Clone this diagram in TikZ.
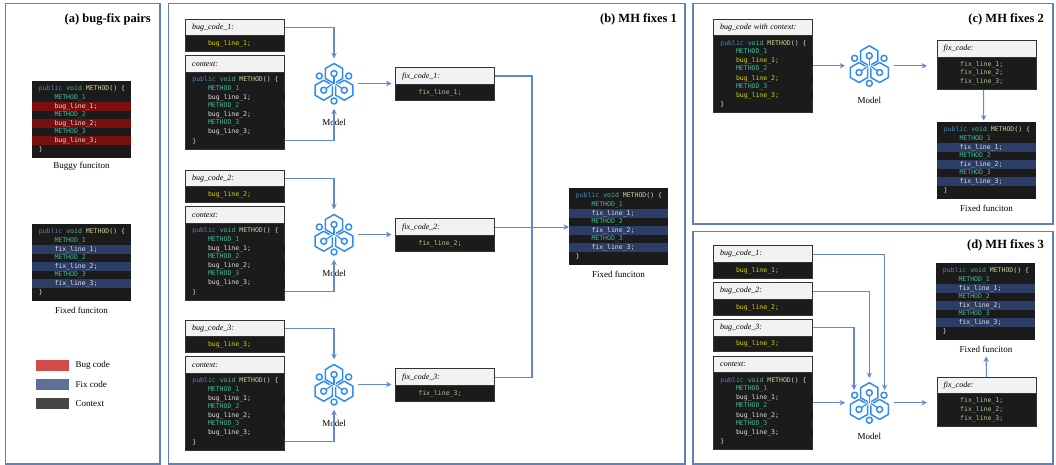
\documentclass[tikz,border=0pt]{standalone}
\usepackage{xcolor}
\usepackage{fontspec}
\setmainfont{Liberation Serif}
\setmonofont{DejaVu Sans Mono}
\usetikzlibrary{positioning,calc,arrows.meta}

\definecolor{panelblue}{HTML}{5F80B8}
\definecolor{flowblue}{HTML}{6388D0}
\definecolor{iconblue}{HTML}{2F8CF5}
\definecolor{codebg}{HTML}{1B1B1B}
\definecolor{headbg}{HTML}{F2F2F2}
\definecolor{redband}{HTML}{7A0F0F}
\definecolor{blueband}{HTML}{2C3E66}
\definecolor{kwblue}{HTML}{4F86BC}
\definecolor{kwteal}{HTML}{45B79A}
\definecolor{fnyellow}{HTML}{D0D09A}
\definecolor{plaintext}{HTML}{E0E0E0}
\definecolor{bugyellow}{HTML}{D6D600}
\definecolor{fixgreen}{HTML}{A8CC8C}
\definecolor{swbugcol}{HTML}{D24A4A}
\definecolor{swfixcol}{HTML}{5F7096}
\definecolor{swctxcol}{HTML}{454545}

\tikzset{
    panel/.style={draw=panelblue, line width=1.2pt},
    titlelabel/.style={font=\fontsize{12.5}{14}\selectfont\bfseries, anchor=east, inner sep=0pt},
    caption/.style={font=\fontsize{9}{11}\selectfont, inner sep=0pt},
    headbox/.style={draw=black!80, line width=0.8pt, fill=headbg, anchor=north west, outer sep=0pt,
        inner xsep=6.7pt, inner ysep=0pt, text width=85.6pt, minimum height=16.7pt, align=left,
        font=\fontsize{8}{10}\selectfont\itshape},
    snipbody/.style={draw=black!80, line width=0.8pt, fill=codebg, minimum width=99pt, outer sep=0pt, inner sep=0pt},
    codebody/.style={fill=codebg, minimum width=99pt, minimum height=77pt, inner sep=0pt, anchor=north west},
    band/.style={minimum width=99pt, minimum height=9pt, inner sep=0pt},
    codeline/.style={anchor=west, inner sep=0pt, text height=5pt, text depth=1.5pt,
        font=\fontsize{6.5}{8}\selectfont\ttfamily},
    swatch/.style={minimum width=33pt, minimum height=11pt, inner sep=0pt, anchor=west},
    flow/.style={draw=flowblue, line width=1.1pt, -{Stealth[length=5.5pt,width=5.5pt]}},
    flowjoin/.style={draw=flowblue, line width=1.1pt},
    modelbox/.style={minimum width=48pt, minimum height=50pt, inner sep=0pt},
    iconline/.style={draw=iconblue, line width=1.5pt, line join=round},
    iconstem/.style={draw=iconblue, line width=1.2pt, preaction={draw=white, line width=3pt}},
    pics/modelicon/.style={code={
        \foreach \cx/\cy in {0/-10, -10.3/6.7, 10.3/6.7}
            \draw[iconline, shift={(\cx,\cy)}] (0,-10) -- (8.66,-5) -- (8.66,5) -- (0,10) -- (-8.66,5) -- (-8.66,-5) -- cycle;
        \draw[iconstem] (0,-7) -- (0,0.5);
        \draw[iconstem] (-7.8,5) -- (-1.8,0.6);
        \draw[iconstem] (7.8,5) -- (1.8,0.6);
        \foreach \cx/\cy in {0/-10, -10.3/6.7, 10.3/6.7, -14.7/-7.5, 14.7/-7.5, 0/17.5}
            \draw[iconline] (\cx,\cy) circle[radius=3pt];
    }},
}

% name, head text, body height
\newcommand{\snipbox}[5]{
    \node[headbox] (#1) at (#2) {#3};
    \node[snipbody, minimum height=#4pt, below=0pt of #1] (#1b) {};
    #5
}
% body node, word, line colour, band colour
\newcommand{\codelines}[4]{
    \foreach \k in {1,2,3} {
        \node[band, fill=#4] (#1band\k) at ($(#1.north)+(0,25.5+17.1*\k-17.1)$) {};
        \node[codeline, text=kwteal] (#1meth\k) at ($(#1.north west)+(22.3,16.4+17.1*\k-17.1)$) {METHOD\_\k};
        \node[codeline, text=#3] (#1line\k) at ($(#1.north west)+(22.3,25.5+17.1*\k-17.1)$) {#2\_line\_\k;};
    }
    \node[codeline] (#1sig) at ($(#1.north west)+(6.7,7.7)$) {\textcolor{kwblue}{public} \textcolor{kwteal}{void} \textcolor{fnyellow}{METHOD}\textcolor{plaintext}{() \{}};
    \node[codeline, text=plaintext] (#1end) at ($(#1.north west)+(6.7,69)$) {\}};
}
\newcommand{\codeblock}[5]{
    \node[codebody] (#1) at (#2) {};
    \codelines{#1}{#3}{#4}{#5}
}
\newcommand{\modelnode}[2]{
    \node[modelbox] (#1) at (#2) {};
    \pic at (#1) {modelicon};
}

\begin{document}
\begin{tikzpicture}[x=1pt, y=-1pt]
    \useasboundingbox (0,0) rectangle (1056,465);

    \draw[panel] (5.5,3.5) rectangle (160,464);
    \draw[panel] (168.5,3.5) rectangle (685,464);
    \draw[panel] (693,3.5) rectangle (1053,224);
    \draw[panel] (693,231.5) rectangle (1053,464);

    \node[titlelabel] (titlea) at (151,19) {(a) bug-fix pairs};
    \node[titlelabel] (titleb) at (677,19) {(b) MH fixes 1};
    \node[titlelabel] (titlec) at (1044,19) {(c) MH fixes 2};
    \node[titlelabel] (titled) at (1044,245.7) {(d) MH fixes 3};

    % bug-fix pairs
    \codeblock{buggy}{32,81}{bug}{plaintext}{redband}
    \node[caption] (buggycap) at (81.5,166) {Buggy funciton};
    \codeblock{fixed}{32,224}{fix}{plaintext}{blueband}
    \node[caption] (fixedcap) at (81.5,310) {Fixed funciton};

    \node[swatch, fill=swbugcol] (swbug) at (36,365.5) {};
    \node[swatch, fill=swfixcol] (swfix) at (36,384.5) {};
    \node[swatch, fill=swctxcol] (swctx) at (36,403.5) {};
    \node[caption, right=6pt of swbug] (lgbug) {Bug code};
    \node[caption, right=6pt of swfix] (lgfix) {Fix code};
    \node[caption, right=6pt of swctx] (lgctx) {Context};

    % MH fixes 1
    \foreach \g/\dy in {1/0, 2/151, 3/301} {
        \snipbox{bug\g}{185.5,19+\dy}{bug\_code\_\g:}{16}{
            \node[codeline, text=bugyellow] (bugtxt\g) at ($(bug\g b.north west)+(22.3,8.4)$) {bug\_line\_\g;};
        }
        \snipbox{ctx\g}{185.5,55.7+\dy}{context:}{77}{
            \codelines{ctx\g b}{bug}{plaintext}{codebg}
        }
        \modelnode{m\g}{334,83.5+\dy}
        \node[caption] (mlabel\g) at (334,122+\dy) {Model};
        \snipbox{fix\g}{395.5,67.7+\dy}{fix\_code\_\g:}{16}{
            \node[codeline, text=fixgreen] (fixtxt\g) at ($(fix\g b.north west)+(22.7,8)$) {fix\_line\_\g;};
        }
        \draw[flow] (bug\g.east) -| (m\g.north);
        \draw[flow] ($(ctx\g b.south east)+(0,-9)$) -| (m\g.south);
        \draw[flow, shorten >=4pt] (m\g.east) -- (m\g.east -| fix\g.west);
    }
    \codeblock{fixb}{569,188}{fix}{plaintext}{blueband}
    \node[caption] (fixbcap) at (618.5,274) {Fixed funciton};
    \coordinate (join) at (532,226.5);
    \draw[flowjoin] (fix1.east) -| (join);
    \draw[flowjoin] (fix3.east) -| (join);
    \draw[flow] (fix2.east) -- (fix2.east -| fixb.west);

    % MH fixes 2
    \snipbox{bugc}{713.5,19}{bug\_code with context:}{77}{
        \codelines{bugcb}{bug}{bugyellow}{codebg}
    }
    \modelnode{mc}{869.3,65.8}
    \node[caption] (mclabel) at (869.3,100) {Model};
    \snipbox{fixc}{937,40.3}{fix\_code:}{32.7}{
        \foreach \k/\ly in {1/7.3, 2/16.2, 3/24.8}
            \node[codeline, text=fixgreen] (fixctxt\k) at ($(fixcb.north west)+(23,\ly)$) {fix\_line\_\k;};
    }
    \codeblock{fixedc}{937,122}{fix}{plaintext}{blueband}
    \node[caption] (fixedccap) at (986.5,208) {Fixed funciton};
    \draw[flow] (bugcb.east |- mc) -- (mc.west);
    \draw[flow, shorten >=10pt] (mc.east) -- (mc.east -| fixc.west);
    \draw[flow] ($(fixcb.south)+(-3,0)$) -- ($(fixedc.north)+(-3,-1.5)$);

    % MH fixes 3
    \snipbox{bugd1}{713.5,245.7}{bug\_code\_1:}{16}{
        \node[codeline, text=bugyellow] (bugdtxt1) at ($(bugd1b.north west)+(22.3,8)$) {bug\_line\_1;};
    }
    \snipbox{bugd2}{713.5,282.7}{bug\_code\_2:}{16}{
        \node[codeline, text=bugyellow] (bugdtxt2) at ($(bugd2b.north west)+(22.3,8)$) {bug\_line\_2;};
    }
    \snipbox{bugd3}{713.5,319.3}{bug\_code\_3:}{15}{
        \node[codeline, text=bugyellow] (bugdtxt3) at ($(bugd3b.north west)+(22.3,8)$) {bug\_line\_3;};
    }
    \snipbox{ctxd}{713.5,356}{context:}{77}{
        \codelines{ctxdb}{bug}{plaintext}{codebg}
    }
    \modelnode{md}{869.3,402.7}
    \node[caption] (mdlabel) at (869.3,436.7) {Model};
    \snipbox{fixd}{937,377}{fix\_code:}{33}{
        \foreach \k/\ly in {1/7.5, 2/15.8, 3/24.8}
            \node[codeline, text=fixgreen] (fixdtxt\k) at ($(fixdb.north west)+(23,\ly)$) {fix\_line\_\k;};
    }
    \codeblock{fixedd}{936,263}{fix}{plaintext}{blueband}
    \node[caption] (fixeddcap) at (986,349) {Fixed funciton};
    \coordinate (tipa) at (884.7,390);
    \coordinate (tipb) at (869.3,378);
    \coordinate (tipc) at (854,390);
    \draw[flow] (bugd1.east) -| (tipa);
    \draw[flow] (bugd2.east) -| (tipb);
    \draw[flow] (bugd3.east) -| (tipc);
    \draw[flow] (ctxdb.east |- md) -- (md.west);
    \draw[flow, shorten >=10pt] (md.east) -- (md.east -| fixd.west);
    \draw[flow, shorten >=4pt] (fixd.north) -- (fixeddcap.south);
\end{tikzpicture}
\end{document}
